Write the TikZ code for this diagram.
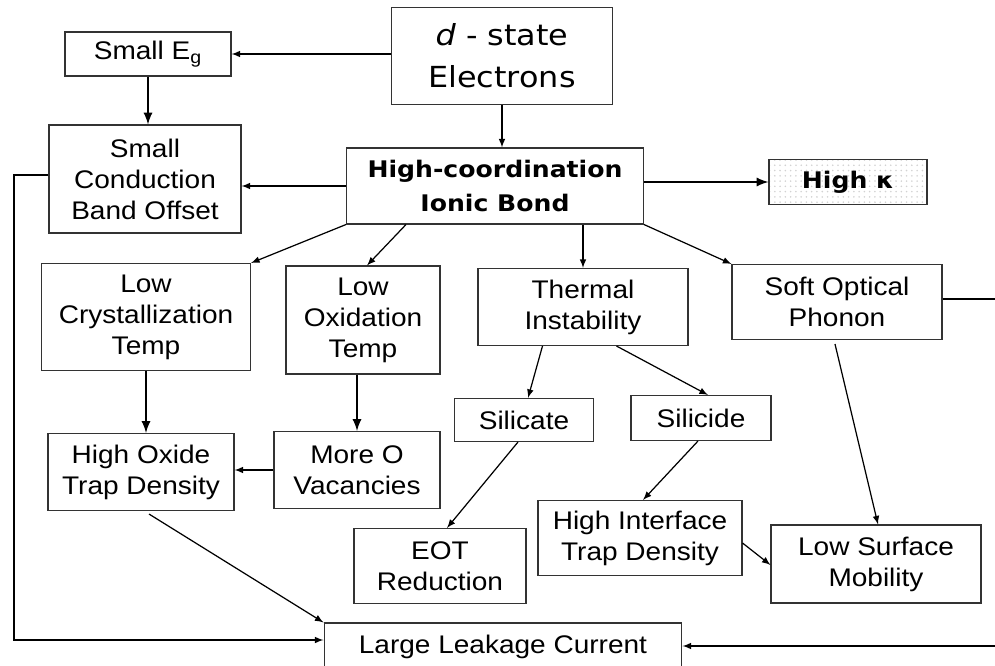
\documentclass[tikz,border=0pt]{standalone}
\usepackage{fontspec}
\setmainfont{Liberation Sans}[FakeStretch=1.1]
\newfontfamily\verdfont{DejaVu Sans}[FakeStretch=1.1]
\usetikzlibrary{calc}
\usetikzlibrary{patterns}
\usetikzlibrary{positioning}

\tikzset{
  box/.style={draw=black!80, line width=0.6pt, align=center, inner sep=1pt,
    font=\fontsize{14.5}{17.6}\selectfont},
  boldbox/.style={box, font=\verdfont\bfseries\fontsize{13}{19.3}\selectfont},
  arr/.style={-latex, line width=0.7pt},
  fatarr/.style={-latex, line width=1.3pt},
}

\begin{document}
\begin{tikzpicture}[x=0.02cm, y=-0.02cm]
  \useasboundingbox (0,0) rectangle (995,666);
  % top row
  \node[box, minimum width=4.42cm, minimum height=1.94cm,
    font=\verdfont\fontsize{16.5}{23.9}\selectfont] (dstate) at (502,56) {\textit{d} - state\\Electrons};
  \node[box, minimum width=3.32cm, minimum height=0.88cm] (eg) at (148,54) {Small E\textsubscript{g}};
  \node[box, minimum width=3.84cm, minimum height=2.16cm] (scbo) at (145,179) {Small\\Conduction\\Band Offset};
  \node[boldbox, minimum width=5.94cm, minimum height=1.52cm] (hcib) at (495,186) {High-coordination\\Ionic Bond};
  \node[boldbox, minimum width=3.16cm, minimum height=0.90cm,
    preaction={fill=white}, pattern=dots, pattern color=gray!35] (hk) at (848,182) {High κ};
  % second row
  \node[box, minimum width=4.18cm, minimum height=2.14cm] (lct) at (146,317) {Low\\Crystallization\\Temp};
  \node[box, minimum width=3.08cm, minimum height=2.16cm] (lot) at (363,320) {Low\\Oxidation\\Temp};
  \node[box, minimum width=4.20cm, minimum height=1.54cm] (ti) at (583,307) {Thermal\\Instability};
  \node[box, minimum width=4.20cm, minimum height=1.50cm] (sop) at (837,302) {Soft Optical\\Phonon};
  % third row
  \node[box, minimum width=2.78cm, minimum height=0.86cm] (sct) at (524,420) {Silicate};
  \node[box, minimum width=2.80cm, minimum height=0.90cm] (scd) at (701,418) {Silicide};
  \node[box, minimum width=3.72cm, minimum height=1.54cm] (hotd) at (141,472) {High Oxide\\Trap Density};
  \node[box, minimum width=3.32cm, minimum height=1.54cm] (mov) at (357,470) {More O\\Vacancies};
  \node[box, minimum width=3.44cm, minimum height=1.50cm] (eot) at (440,566) {EOT\\Reduction};
  \node[box, minimum width=4.08cm, minimum height=1.50cm] (hitd) at (640,538) {High Interface\\Trap Density};
  \node[box, minimum width=4.20cm, minimum height=1.56cm] (lsm) at (876,564) {Low Surface\\Mobility};
  \node[box, minimum width=7.16cm, minimum height=0.96cm] (llc) at (503,647) {Large Leakage Current};
  % corners of the long feedback lines
  \coordinate (ltop) at (14,175);
  \coordinate (lbot) at (14,640);
  \coordinate (rtop) at (1000,299);
  \coordinate (rbot) at (1000,646);

  % connectors
  \draw[arr] (dstate.west |- eg.east) -- (eg.east);
  \draw[fatarr] (eg.south) -- (eg.south |- scbo.north);
  \draw[arr] (dstate.south) -- (dstate.south |- hcib.north);
  \draw[arr] (hcib.west) -- (hcib.west -| scbo.east);
  \draw[fatarr] (hcib.east |- hk.west) -- (hk.west);
  \draw[arr] (hcib.south west) -- (lct.north east);
  \draw[arr] ($(hcib.south west)+(60,0)$) -- ($(lot.north)+(4,0)$);
  \draw[arr] (hcib.south -| ti.north) -- (ti.north);
  \draw[arr] (hcib.south east) -- (sop.north west);
  \draw[fatarr] (lct.south) -- (lct.south |- hotd.north);
  \draw[fatarr] (mov.north |- lot.south) -- (mov.north);
  \draw[arr] (mov.west) -- (mov.west -| hotd.east);
  \draw[arr] ($(ti.south west)+(65,0)$) -- ($(sct.north)+(4,0)$);
  \draw[arr] ($(ti.south west)+(139,0)$) -- ($(scd.north)+(7,0)$);
  \draw[arr] ($(sct.south)+(-6,0)$) -- ($(eot.north)+(7,0)$);
  \draw[arr] ($(scd.south)+(-3,0)$) -- ($(hitd.north)+(3,0)$);
  \draw[arr] ($(hitd.east)+(0,5)$) -- ($(lsm.west)+(0,1)$);
  \draw[arr] ($(sop.south)+(-2,4)$) -- ($(lsm.north)+(2,0)$);
  \draw[arr] ($(hotd.south)+(8,3)$) -- (llc.north west);
  \draw[arr] (ltop -| scbo.west) -- (ltop) -- (lbot) -- (lbot -| llc.west);
  \draw[arr] (rtop -| sop.east) -- (rtop) -- (rbot) -- (rbot -| llc.east);
\end{tikzpicture}
\end{document}
